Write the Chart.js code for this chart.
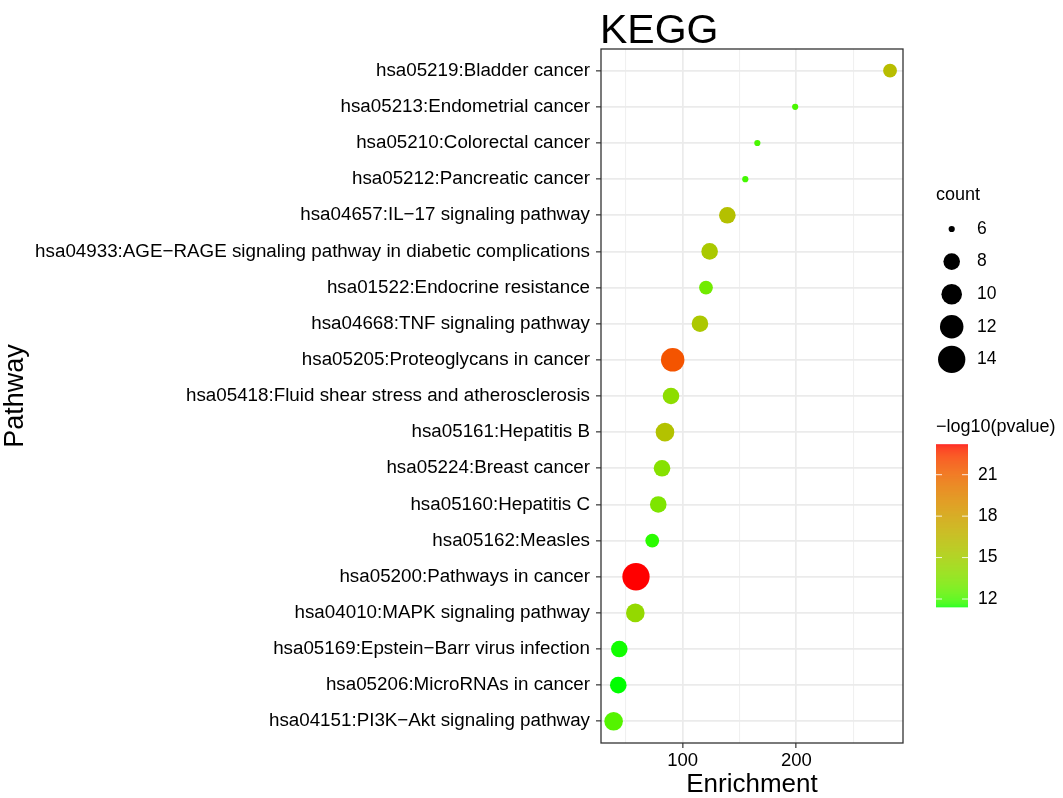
<!DOCTYPE html>
<html>
<head>
<meta charset="utf-8">
<script src="https://cdn.jsdelivr.net/npm/chart.js@4.4.1/dist/chart.umd.min.js"></script>
<style>
html,body{margin:0;padding:0;background:#ffffff;}
#wrap{width:1063px;height:798px;position:relative;}
</style>
</head>
<body>
<div id="wrap"><canvas id="c" width="1063" height="798"></canvas></div>
<script>
// ---------------- data (top to bottom as shown) ----------------
const pathways = [
  "hsa05219:Bladder cancer",
  "hsa05213:Endometrial cancer",
  "hsa05210:Colorectal cancer",
  "hsa05212:Pancreatic cancer",
  "hsa04657:IL\u221217 signaling pathway",
  "hsa04933:AGE\u2212RAGE signaling pathway in diabetic complications",
  "hsa01522:Endocrine resistance",
  "hsa04668:TNF signaling pathway",
  "hsa05205:Proteoglycans in cancer",
  "hsa05418:Fluid shear stress and atherosclerosis",
  "hsa05161:Hepatitis B",
  "hsa05224:Breast cancer",
  "hsa05160:Hepatitis C",
  "hsa05162:Measles",
  "hsa05200:Pathways in cancer",
  "hsa04010:MAPK signaling pathway",
  "hsa05169:Epstein\u2212Barr virus infection",
  "hsa05206:MicroRNAs in cancer",
  "hsa04151:PI3K\u2212Akt signaling pathway"
];
const enrichment = [282.5, 199.0, 165.7, 155.1, 139.3, 123.7, 120.5, 115.2, 91.2, 89.7, 84.4, 81.8, 78.5, 73.2, 58.9, 58.3, 44.2, 43.3, 39.2];
const counts     = [7, 6, 6, 6, 8, 8, 7, 8, 12, 8, 9, 8, 8, 7, 14, 9, 8, 8, 9];
const logP       = [16.1, 12.0, 12.0, 11.9, 15.9, 15.3, 12.9, 15.4, 21.7, 13.9, 15.8, 13.6, 13.3, 11.6, 23.2, 14.2, 11.45, 11.4, 12.2];

const xMajorTicks = [100, 200];
const xMinorTicks = [50, 150, 250];
const countBreaks = [6, 8, 10, 12, 14];
const pBreaks     = [12, 15, 18, 21];

const chartTitle = "KEGG";
const xTitle = "Enrichment";
const yTitle = "Pathway";
const sizeTitle = "count";
const colorTitle = "\u2212log10(pvalue)";

// ---------------- styling helpers ----------------
const FONT = "'Liberation Sans', Arial, Helvetica, sans-serif";
const LOW_COLOR = [0, 255, 0];
const HIGH_COLOR = [255, 0, 0];
const SIZE_KEYS = [6, 7, 8, 10, 12, 14];
const SIZE_DIAM = [6.2, 13.8, 16.6, 20.6, 23.5, 27.3];

function diam(c) {
  if (c <= SIZE_KEYS[0]) return SIZE_DIAM[0];
  for (let i = 1; i < SIZE_KEYS.length; i++) {
    if (c <= SIZE_KEYS[i]) {
      const t = (c - SIZE_KEYS[i-1]) / (SIZE_KEYS[i] - SIZE_KEYS[i-1]);
      return SIZE_DIAM[i-1] + t * (SIZE_DIAM[i] - SIZE_DIAM[i-1]);
    }
  }
  return SIZE_DIAM[SIZE_DIAM.length-1];
}

function toLin(c){ c/=255; return c<=0.04045 ? c/12.92 : Math.pow((c+0.055)/1.055, 2.4); }
function fromLin(c){ c = c<=0.0031308 ? 12.92*c : 1.055*Math.pow(Math.max(c,0), 1/2.4)-0.055; return Math.round(Math.max(0, Math.min(1, c))*255); }
const Xn=0.95047, Yn=1.0, Zn=1.08883;
function fLab(t){ return t>0.008856 ? Math.cbrt(t) : 7.787*t + 16/116; }
function fInv(t){ const t3=t*t*t; return t3>0.008856 ? t3 : (t-16/116)/7.787; }
function rgb2lab(rgb){
  const R=toLin(rgb[0]), G=toLin(rgb[1]), B=toLin(rgb[2]);
  const X=0.4124*R+0.3576*G+0.1805*B, Y=0.2126*R+0.7152*G+0.0722*B, Z=0.0193*R+0.1192*G+0.9505*B;
  const fx=fLab(X/Xn), fy=fLab(Y/Yn), fz=fLab(Z/Zn);
  return [116*fy-16, 500*(fx-fy), 200*(fy-fz)];
}
function lab2rgb(lab){
  const fy=(lab[0]+16)/116, fx=fy+lab[1]/500, fz=fy-lab[2]/200;
  const X=Xn*fInv(fx), Y=Yn*fInv(fy), Z=Zn*fInv(fz);
  const R= 3.2406*X-1.5372*Y-0.4986*Z;
  const G=-0.9689*X+1.8758*Y+0.0415*Z;
  const B= 0.0557*X-0.2040*Y+1.0570*Z;
  return [fromLin(R), fromLin(G), fromLin(B)];
}
const LAB_LO = rgb2lab(LOW_COLOR), LAB_HI = rgb2lab(HIGH_COLOR);
const pMin = Math.min(...logP), pMax = Math.max(...logP);
function colorFor(v){
  let t = (v - pMin) / (pMax - pMin);
  t = Math.max(0, Math.min(1, t));
  const lab = [0,1,2].map(k => LAB_LO[k] + t*(LAB_HI[k]-LAB_LO[k]));
  const c = lab2rgb(lab);
  return `rgb(${c[0]},${c[1]},${c[2]})`;
}

// ---------------- custom drawing: panel border, title, legends ----------------
const decorPlugin = {
  id: 'decor',
  afterDraw(chart) {
    const ctx = chart.ctx;
    const a = chart.chartArea;
    ctx.save();
    // panel border
    ctx.strokeStyle = '#333333';
    ctx.lineWidth = 1.3;
    ctx.strokeRect(a.left, a.top, a.right - a.left, a.bottom - a.top);

    // title
    ctx.fillStyle = '#000';
    ctx.font = `41px ${FONT}`;
    ctx.textAlign = 'left';
    ctx.textBaseline = 'alphabetic';
    ctx.fillText(chartTitle, a.left - 1, 43);

    // size legend
    ctx.font = `18px ${FONT}`;
    ctx.textBaseline = 'middle';
    ctx.fillText(sizeTitle, 936, 195);
    ctx.font = `17.5px ${FONT}`;
    countBreaks.forEach((c, i) => {
      const y = 229 + i * 32.6;
      ctx.beginPath();
      ctx.fillStyle = '#000';
      ctx.arc(951.7, y, diam(c) / 2, 0, Math.PI * 2);
      ctx.fill();
      ctx.fillText(String(c), 977, y);
    });

    // colour bar legend
    ctx.font = `18px ${FONT}`;
    ctx.fillText(colorTitle, 936, 427);
    const bx0 = 936, bx1 = 968, by0 = 444.3, by1 = 607.3;
    const H = by1 - by0;
    for (let y = 0; y < Math.ceil(H); y++) {
      const v = pMax - (y + 0.5) / H * (pMax - pMin);
      ctx.fillStyle = colorFor(v);
      ctx.fillRect(bx0, by0 + y, bx1 - bx0, Math.min(1.2, H - y));
    }
    ctx.font = `17.5px ${FONT}`;
    pBreaks.forEach(b => {
      const y = by1 - (b - pMin) / (pMax - pMin) * H;
      ctx.strokeStyle = 'rgba(255,255,255,0.85)';
      ctx.lineWidth = 1;
      ctx.beginPath();
      ctx.moveTo(bx0, y); ctx.lineTo(bx0 + 6, y);
      ctx.moveTo(bx1 - 6, y); ctx.lineTo(bx1, y);
      ctx.stroke();
      ctx.fillStyle = '#000';
      ctx.fillText(String(b), 978, y);
    });
    ctx.restore();
  }
};

// ---------------- chart ----------------
const allXTicks = [...xMinorTicks, ...xMajorTicks].sort((p, q) => p - q);
const isMajorX = v => xMajorTicks.includes(v);

new Chart(document.getElementById('c'), {
  type: 'scatter',
  data: {
    datasets: [{
      data: pathways.map((p, i) => ({ x: enrichment[i], y: i + 1 })),
      pointRadius: c => diam(counts[c.dataIndex]) / 2,
      pointHoverRadius: c => diam(counts[c.dataIndex]) / 2,
      pointBackgroundColor: c => colorFor(logP[c.dataIndex]),
      pointBorderWidth: 0,
      pointHoverBorderWidth: 0
    }]
  },
  options: {
    responsive: false,
    animation: false,
    events: [],
    layout: { padding: { top: 49, right: 160, left: 0, bottom: 0 } },
    plugins: { legend: { display: false }, tooltip: { enabled: false }, title: { display: false } },
    scales: {
      x: {
        type: 'linear',
        min: 28.1, max: 293.9,
        afterBuildTicks: s => { s.ticks = allXTicks.map(v => ({ value: v })); },
        afterFit: s => { s.height = 55; },
        ticks: {
          callback: v => isMajorX(v) ? String(v) : '',
          font: { family: FONT, size: 18.5 },
          color: '#000',
          padding: 2,
          maxRotation: 0, autoSkip: false
        },
        grid: {
          color: c => (c.tick && isMajorX(c.tick.value)) ? '#EBEBEB' : '#F0F0F0',
          lineWidth: c => (c.tick && isMajorX(c.tick.value)) ? 1.7 : 1.1,
          tickColor: c => (c.tick && isMajorX(c.tick.value)) ? '#333333' : 'rgba(0,0,0,0)',
          tickLength: 5,
          tickWidth: 1.2,
          drawTicks: true
        },
        border: { display: false },
        title: {
          display: true, text: xTitle, color: '#000',
          font: { family: FONT, size: 26, lineHeight: 1 },
          padding: { top: 0, bottom: 0 }
        }
      },
      y: {
        type: 'linear',
        reverse: true,
        min: 0.4, max: pathways.length + 0.6,
        afterBuildTicks: s => { s.ticks = pathways.map((p, i) => ({ value: i + 1 })); },
        afterFit: s => { s.width = 601; },
        ticks: {
          callback: v => pathways[v - 1],
          font: { family: FONT, size: 18.8 },
          color: '#000',
          padding: 6,
          autoSkip: false
        },
        grid: {
          color: '#EBEBEB',
          lineWidth: 1.7,
          tickColor: '#333333',
          tickLength: 5,
          tickWidth: 1.2
        },
        border: { display: false },
        title: {
          display: true, text: yTitle, color: '#000',
          font: { family: FONT, size: 27, lineHeight: 1 },
          padding: { top: 2, bottom: 0 }
        }
      }
    }
  },
  plugins: [decorPlugin]
});
</script>
</body>
</html>
